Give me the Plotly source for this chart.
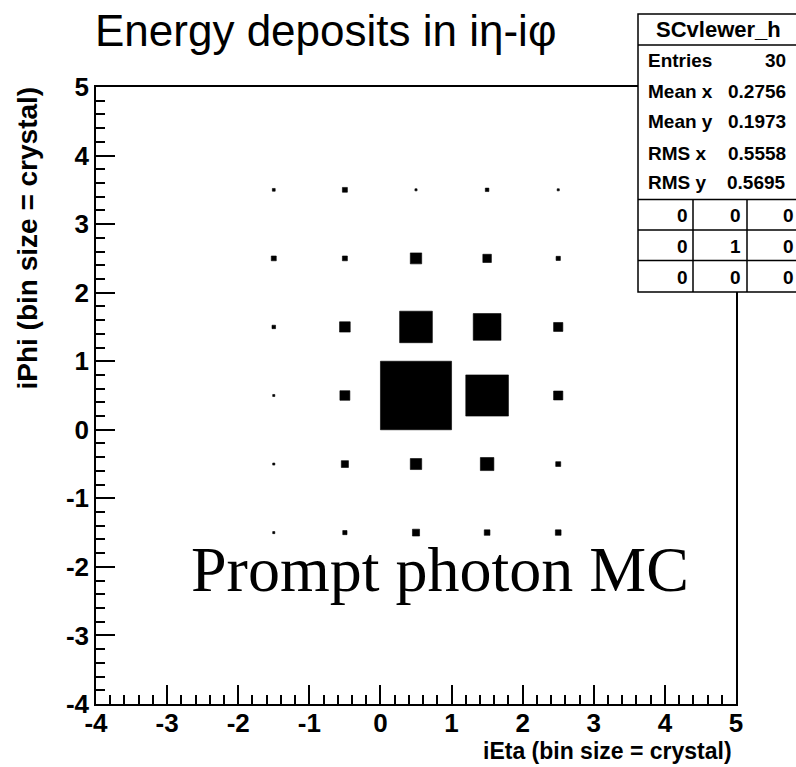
import plotly.graph_objects as go

# Energy deposits per crystal (relative units), rows = iPhi bins, columns = iEta bins
ieta_centers = [-1.5, -0.5, 0.5, 1.5, 2.5]
iphi_centers = [3.5, 2.5, 1.5, 0.5, -0.5, -1.5]
deposits = [
    [4, 7, 3, 5, 3],
    [7, 7, 16, 12, 6],
    [5, 15, 46, 39, 13],
    [3, 14, 100, 60, 13],
    [3, 10, 16, 19, 7],
    [3, 6, 10, 8, 8],
]

stats_name = "SCvlewer_h"
stats_labels = ["Entries", "Mean x", "Mean y", "RMS x", "RMS y"]
stats_values = ["30", "0.2756", "0.1973", "0.5558", "0.5695"]
overflow_table = [[0, 0, 0], [0, 1, 0], [0, 0, 0]]

x_ticks = [-4, -3, -2, -1, 0, 1, 2, 3, 4, 5]
y_ticks = [-4, -3, -2, -1, 0, 1, 2, 3, 4, 5]
tick_text = ["-4", "-3", "-2", "-1", "0", "1", "2", "3", "4", "5"]

W, H = 796, 767
L, R, T, B = 96, 60, 87, 63
PW, PH = W - L - R, H - T - B


def px(x):
    return (x - L) / PW


def py(y):
    return (H - B - y) / PH


# Box outlines: side length proportional to the deposit relative to the maximum
vmax = max(max(r) for r in deposits)
bx, by = [], []
for j, yc in enumerate(iphi_centers):
    for i, xc in enumerate(ieta_centers):
        h = 0.5 * deposits[j][i] / vmax
        bx += [xc - h, xc + h, xc + h, xc - h, xc - h, None]
        by += [yc - h, yc - h, yc + h, yc + h, yc - h, None]

fig = go.Figure()
fig.add_trace(go.Scatter(
    x=bx, y=by, mode="lines", fill="toself", fillcolor="black",
    line=dict(color="black", width=0.6), hoverinfo="skip", showlegend=False,
))

bold = "Liberation Sans, Arial, sans-serif"
tick_font = dict(family=bold, size=26, color="black", weight="bold")
axis_common = dict(
    showgrid=False, zeroline=False, showline=True, linecolor="black", linewidth=1.5,
    mirror=True, ticks="inside", ticklen=19, tickwidth=1.5, tickcolor="black",
    tickfont=tick_font,
    minor=dict(dtick=0.2, ticks="inside", ticklen=9, tickwidth=1.5, tickcolor="black"),
)

fig.update_xaxes(range=[-4, 5], tickvals=x_ticks, ticktext=tick_text,
                 ticklabelstandoff=-5, **axis_common)
fig.update_yaxes(range=[-4, 5], tickvals=y_ticks, ticktext=tick_text,
                 ticklabelstandoff=0, **axis_common)

ann = []
ann.append(dict(text="Energy deposits in iη-iφ", x=px(93), y=py(30), xanchor="left",
                yanchor="middle", font=dict(family=bold, size=44, color="black")))
ann.append(dict(text="<b>iEta (bin size = crystal)</b>", x=px(734), y=py(751), xanchor="right",
                yanchor="middle", font=dict(family=bold, size=23, color="black")))
ann.append(dict(text="<b>iPhi (bin size = crystal)</b>", x=px(27), y=py(85), xanchor="center",
                yanchor="top", textangle=-90, font=dict(family=bold, size=28, color="black")))
ann.append(dict(text="Prompt photon MC", x=px(440), y=py(569), xanchor="center",
                yanchor="middle", font=dict(family="Liberation Serif, Times New Roman, serif",
                                            size=64, color="black")))

# Statistics box
bx0, bx1, by0, by1 = 638, 801, 14, 292
shapes = [dict(type="rect", xref="paper", yref="paper", x0=px(bx0), x1=px(bx1),
               y0=py(by0), y1=py(by1), fillcolor="white", line=dict(color="black", width=1.5),
               layer="above")]
for yl in [45, 199.5, 230, 260.5]:
    shapes.append(dict(type="line", xref="paper", yref="paper", x0=px(bx0), x1=px(bx1),
                       y0=py(yl), y1=py(yl), line=dict(color="black", width=1.5), layer="above"))
for xl in [693, 747]:
    shapes.append(dict(type="line", xref="paper", yref="paper", x0=px(xl), x1=px(xl),
                       y0=py(199.5), y1=py(by1), line=dict(color="black", width=1.5), layer="above"))

sfont = dict(family=bold, size=19, color="black")
ann.append(dict(text=f"<b>{stats_name}</b>", x=px(718), y=py(29.5), xanchor="center",
                yanchor="middle", font=dict(family=bold, size=22, color="black")))
row_y = [61, 92, 122, 153, 182]
for lab, val, yy in zip(stats_labels, stats_values, row_y):
    ann.append(dict(text=f"<b>{lab}</b>", x=px(646), y=py(yy), xanchor="left",
                    yanchor="middle", font=sfont))
    ann.append(dict(text=f"<b>{val}</b>", x=px(788), y=py(yy), xanchor="right",
                    yanchor="middle", font=sfont))
col_x = [690, 743, 796]
tab_y = [215, 246, 277]
for r, yy in zip(overflow_table, tab_y):
    for v, xx in zip(r, col_x):
        ann.append(dict(text=f"<b>{v}</b>", x=px(xx), y=py(yy), xanchor="right",
                        yanchor="middle", font=sfont))

for a in ann:
    a.update(xref="paper", yref="paper", showarrow=False)

fig.update_layout(
    width=W, height=H, margin=dict(l=L, r=R, t=T, b=B),
    paper_bgcolor="white", plot_bgcolor="white",
    annotations=ann, shapes=shapes, showlegend=False,
)

fig.write_html("out.html")
